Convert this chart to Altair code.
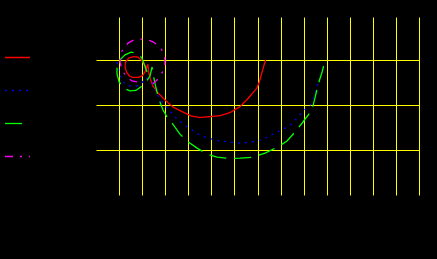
import altair as alt
import pandas as pd

# Series (data units: x 0..14, y 0..3.95)
series_names = ["Series A", "Series B", "Series C", "Series D"]
series_colors = ["#ff0000", "#0000ff", "#00ff00", "#ff00ff"]
series_dashes = [[1, 0], [2, 5], [17, 8], [8, 7, 2, 7]]

red_x = [2.17, 1.99, 1.82, 1.63, 1.42, 1.28, 1.26, 1.32, 1.45, 1.60, 1.84, 2.02, 2.12, 2.25,
         2.28, 2.36, 2.47, 2.64, 2.99, 3.34, 3.77, 4.15, 4.51, 4.94, 5.37, 5.81, 6.24, 6.53,
         6.72, 6.97, 7.08, 7.18, 7.35]
red_y = [2.84, 2.98, 3.06, 3.07, 3.04, 2.95, 2.84, 2.73, 2.64, 2.61, 2.61, 2.65, 2.73, 2.90,
         2.73, 2.57, 2.42, 2.29, 2.11, 1.95, 1.84, 1.75, 1.72, 1.74, 1.76, 1.83, 1.96, 2.11,
         2.22, 2.37, 2.51, 2.70, 3.00]

blue_x = [0.91, 0.98, 1.08, 1.26, 1.52, 1.78, 1.99, 2.17, 2.36, 2.56, 2.67, 2.90, 3.21, 3.57,
          3.93, 4.42, 4.85, 5.37, 5.88, 6.24, 6.68, 7.18, 7.67, 8.11, 8.41, 8.70, 8.93, 9.28,
          9.42, 9.54, 9.67]
blue_y = [2.95, 2.77, 2.60, 2.46, 2.41, 2.42, 2.49, 2.60, 2.53, 2.40, 2.22, 2.04, 1.85, 1.66,
          1.52, 1.35, 1.26, 1.20, 1.17, 1.15, 1.17, 1.22, 1.35, 1.46, 1.55, 1.70, 1.84, 2.00,
          2.13, 2.33, 2.57]

green_x = [2.21, 2.12, 1.99, 1.78, 1.52, 1.26, 1.04, 0.91, 0.91, 1.00, 1.21, 1.47, 1.73, 1.95,
           2.17, 2.34, 2.43, 2.49, 2.58, 2.71, 2.90, 3.08, 3.29, 3.64, 3.94, 4.38, 4.81, 5.25,
           5.81, 6.24, 6.81, 7.33, 7.89, 8.28, 8.63, 8.97, 9.36, 9.49, 9.62, 9.80, 9.93]
green_y = [2.73, 2.86, 3.04, 3.14, 3.17, 3.11, 3.00, 2.86, 2.69, 2.51, 2.37, 2.31, 2.32, 2.40,
           2.51, 2.64, 2.84, 2.64, 2.42, 2.15, 1.89, 1.73, 1.60, 1.35, 1.20, 1.04, 0.91, 0.84,
           0.81, 0.82, 0.84, 0.93, 1.07, 1.20, 1.40, 1.62, 1.89, 2.15, 2.44, 2.73, 3.00]

magenta_x = [1.78, 1.56, 1.32, 1.13, 1.04, 1.08, 1.21, 1.39, 1.63, 1.91, 2.17, 2.47, 2.71,
             2.88, 2.98, 2.99, 2.93, 2.80, 2.64, 2.47]
magenta_y = [2.51, 2.53, 2.62, 2.77, 2.95, 3.15, 3.27, 3.37, 3.44, 3.46, 3.46, 3.40, 3.31,
             3.20, 3.06, 2.91, 2.77, 2.66, 2.55, 2.47]

x_grid = [1, 2, 3, 4, 5, 6, 7, 8, 9, 10, 11, 12, 13, 14]
y_grid = [1, 2, 3]

rows = []
for name, xs, ys in zip(series_names,
                        [red_x, blue_x, green_x, magenta_x],
                        [red_y, blue_y, green_y, magenta_y]):
    for i, (xv, yv) in enumerate(zip(xs, ys)):
        rows.append({"series": name, "i": i, "x": xv, "y": yv})
df = pd.DataFrame(rows)

chart = alt.Chart(df).mark_line(strokeWidth=1.3, clip=True).encode(
    x=alt.X("x:Q", scale=alt.Scale(domain=[0, 14], nice=False, zero=False),
            axis=alt.Axis(values=x_grid, grid=True, labels=False, ticks=False,
                          domain=False, title=None)),
    y=alt.Y("y:Q", scale=alt.Scale(domain=[0, 3.95], nice=False, zero=False),
            axis=alt.Axis(values=y_grid, grid=True, labels=False, ticks=False,
                          domain=False, title=None)),
    color=alt.Color("series:N",
                    scale=alt.Scale(domain=series_names, range=series_colors),
                    legend=alt.Legend(orient="none", legendX=-92, legendY=27,
                                      title=None, symbolType="stroke", symbolSize=625,
                                      symbolStrokeWidth=1.3, labelExpr="''",
                                      labelOffset=0, rowPadding=14, padding=0)),
    strokeDash=alt.StrokeDash("series:N",
                              scale=alt.Scale(domain=series_names, range=series_dashes),
                              legend=None),
    order=alt.Order("i:Q"),
).properties(
    width=323,
    height=178,
    autosize=alt.AutoSizeParams(type="none"),
    padding={"left": 96, "top": 17, "right": 18, "bottom": 64},
    background="#000000",
).configure_view(
    stroke=None
).configure_axis(
    gridColor="#ffff00",
    gridOpacity=1,
    gridWidth=1,
)

chart.save("out.html", embed_options={"renderer": "svg", "actions": False})
